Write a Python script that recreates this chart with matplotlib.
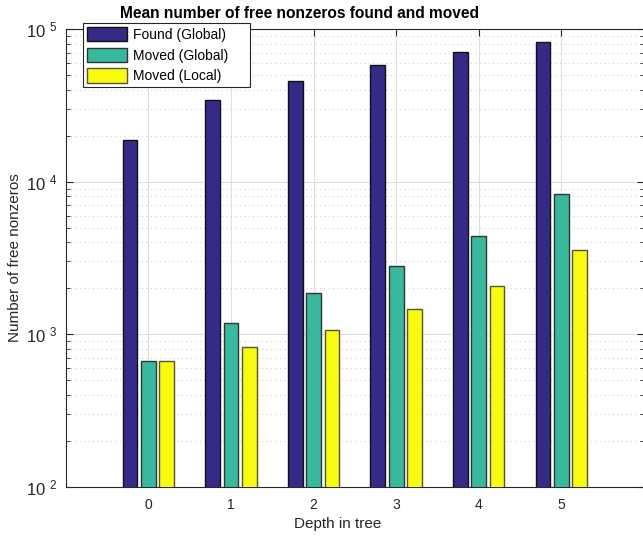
import matplotlib.pyplot as plt
import numpy as np
from matplotlib.ticker import LogLocator, NullFormatter, FuncFormatter

plt.rcParams['font.family'] = ['Liberation Sans', 'DejaVu Sans']
plt.rcParams['mathtext.fontset'] = 'custom'
plt.rcParams['mathtext.rm'] = 'Liberation Sans'
plt.rcParams['mathtext.it'] = 'Liberation Sans'

depths = [0, 1, 2, 3, 4, 5]
found_global = [18700, 34200, 45800, 58100, 70600, 81700]
moved_global = [668, 1186, 1870, 2810, 4385, 8330]
moved_local = [668, 829, 1072, 1459, 2063, 3548]
series_names = ["Found (Global)", "Moved (Global)", "Moved (Local)"]

COLORS = ['#352a87', '#38b99e', '#f9fb0e']
EDGES = ['#111111', '#333333', '#555533']
TXT = '#262626'


def decade_label(v, pos):
    return r'$\mathregular{10\ ^{%d}}$' % int(round(np.log10(v)))


def main():
    fig = plt.figure(figsize=(6.43, 5.42), dpi=100)
    ax = fig.add_axes([0.1022, 0.1015, 0.8994, 0.845])

    x = np.arange(len(depths))
    offsets = [-0.222, 0.0, 0.222]
    width = 0.178
    for vals, off, col, ec, name in zip([found_global, moved_global, moved_local],
                                        offsets, COLORS, EDGES, series_names):
        ax.bar(x + off, vals, width=width, bottom=1, color=col, edgecolor=ec,
               linewidth=1.0, label=name, zorder=3)

    ax.set_yscale('log')
    ax.set_ylim(100, 100000)
    ax.set_xlim(-1, 6)
    ax.set_xticks(x)
    ax.set_xticklabels([str(d) for d in depths])
    ax.yaxis.set_major_locator(LogLocator(base=10, numticks=10))
    ax.yaxis.set_major_formatter(FuncFormatter(decade_label))
    ax.yaxis.set_minor_locator(LogLocator(base=10, subs=np.arange(2, 10), numticks=20))
    ax.yaxis.set_minor_formatter(NullFormatter())

    ax.grid(True, which='major', color='#dedede', linewidth=0.8, linestyle='-', zorder=0)
    ax.grid(True, which='minor', axis='y', color='#cfcfcf', linewidth=0.8,
            linestyle=(0, (1, 3)), zorder=0)

    ax.tick_params(which='both', direction='in', top=True, right=True, colors=TXT)
    ax.tick_params(which='major', length=5)
    ax.tick_params(which='minor', length=3)
    ax.tick_params(axis='x', pad=8, labelsize=10)
    ax.tick_params(axis='y', pad=6, labelsize=12)
    for s in ax.spines.values():
        s.set_color(TXT)
        s.set_linewidth(0.8)

    ax.set_xlabel("Depth in tree", fontsize=11, color=TXT)
    ax.xaxis.set_label_coords(0.47, -0.065)
    ax.set_ylabel("Number of free nonzeros", fontsize=11, color=TXT)
    ax.yaxis.set_label_coords(-0.075, 0.5)

    fig.text(300 / 643, 1 - 14 / 542, "Mean number of free nonzeros found and moved",
             ha='center', va='center', fontsize=11.2, fontweight='bold', color='black')

    leg = ax.legend(loc='upper left',
                    bbox_to_anchor=(83 / 643, 1 - 86 / 542, 167 / 643, 63 / 542),
                    bbox_transform=fig.transFigure, mode='expand', fontsize=10,
                    fancybox=False, framealpha=1, edgecolor=TXT, handlelength=2.9,
                    handleheight=1.2, borderpad=0.3, labelspacing=0.42,
                    handletextpad=0.4, borderaxespad=0)
    leg.get_frame().set_linewidth(0.8)
    leg.set_zorder(10)

    fig.savefig("out.png", dpi=100)


if __name__ == '__main__':
    main()
